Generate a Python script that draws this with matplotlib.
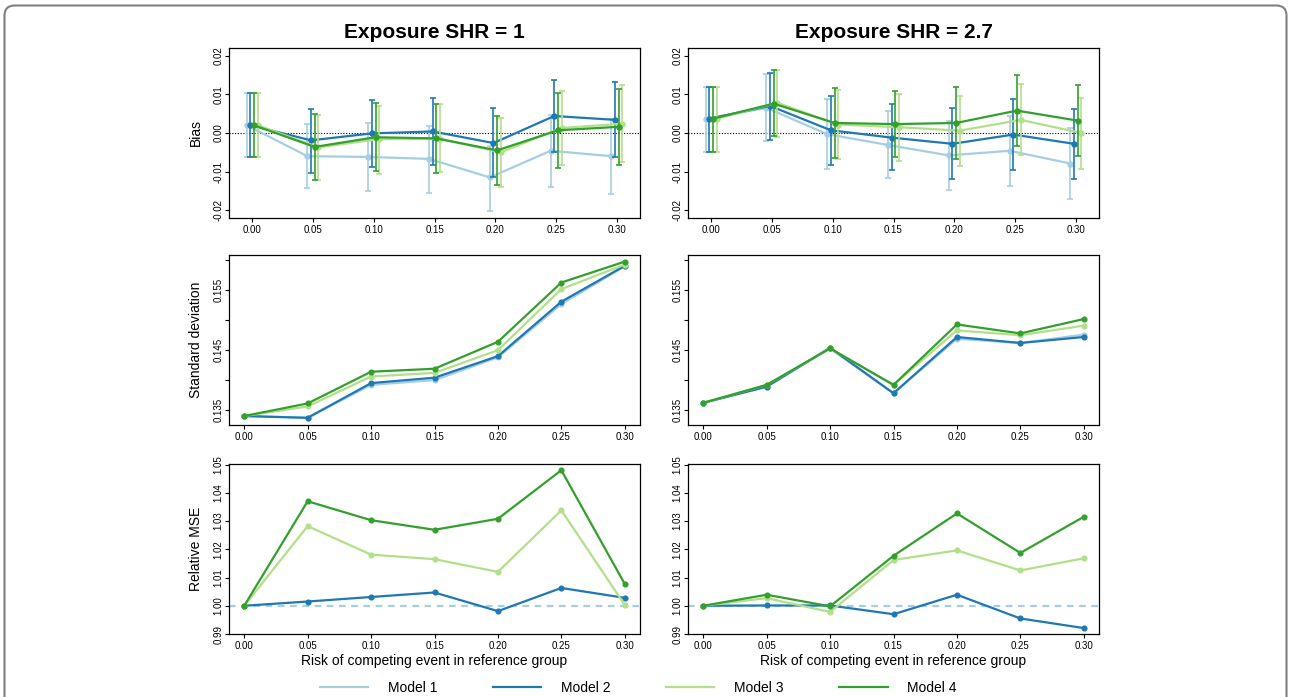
import numpy as np
import matplotlib.pyplot as plt
from matplotlib.patches import FancyBboxPatch

plt.rcParams['font.family'] = ['Liberation Sans', 'DejaVu Sans']

# %%
risk = [0.00, 0.05, 0.10, 0.15, 0.20, 0.25, 0.30]
models = ['Model 1', 'Model 2', 'Model 3', 'Model 4']
colors = ['#a6cee3', '#1f78b4', '#b2df8a', '#33a02c']
titles = ['Exposure SHR = 1', 'Exposure SHR = 2.7']

# bias, rows = model 1..4
bias_shr1 = [[0.0020, -0.0060, -0.0062, -0.0067, -0.0115, -0.0046, -0.0060],
             [0.0020, -0.0019, -0.0001, 0.0004, -0.0026, 0.0044, 0.0034],
             [0.0020, -0.0037, -0.0016, -0.0015, -0.0050, 0.0013, 0.0024],
             [0.0020, -0.0036, -0.0011, -0.0014, -0.0045, 0.0007, 0.0016]]
lo_shr1 = [[-0.0062, -0.0143, -0.0149, -0.0155, -0.0203, -0.0140, -0.0158],
           [-0.0062, -0.0103, -0.0087, -0.0083, -0.0114, -0.0050, -0.0063],
           [-0.0062, -0.0121, -0.0106, -0.0101, -0.0140, -0.0084, -0.0074],
           [-0.0062, -0.0122, -0.0099, -0.0103, -0.0135, -0.0090, -0.0083]]
hi_shr1 = [[0.0103, 0.0023, 0.0025, 0.0017, -0.0033, 0.0047, 0.0036],
           [0.0103, 0.0063, 0.0086, 0.0091, 0.0064, 0.0138, 0.0133],
           [0.0103, 0.0047, 0.0069, 0.0074, 0.0039, 0.0110, 0.0124],
           [0.0103, 0.0048, 0.0078, 0.0074, 0.0045, 0.0103, 0.0114]]

bias_shr27 = [[0.0037, 0.0065, -0.0003, -0.0031, -0.0058, -0.0046, -0.0079],
              [0.0037, 0.0070, 0.0007, -0.0012, -0.0028, -0.0004, -0.0028],
              [0.0037, 0.0078, 0.0022, 0.0015, 0.0006, 0.0034, 0.0000],
              [0.0037, 0.0076, 0.0026, 0.0023, 0.0026, 0.0058, 0.0032]]
lo_shr27 = [[-0.0048, -0.0020, -0.0092, -0.0116, -0.0148, -0.0136, -0.0171],
            [-0.0048, -0.0017, -0.0084, -0.0097, -0.0118, -0.0095, -0.0119],
            [-0.0048, -0.0011, -0.0066, -0.0072, -0.0086, -0.0056, -0.0093],
            [-0.0048, -0.0009, -0.0065, -0.0063, -0.0066, -0.0033, -0.0060]]
hi_shr27 = [[0.0120, 0.0153, 0.0088, 0.0056, 0.0032, 0.0045, 0.0012],
            [0.0120, 0.0155, 0.0097, 0.0074, 0.0064, 0.0087, 0.0063],
            [0.0120, 0.0162, 0.0112, 0.0101, 0.0097, 0.0126, 0.0091],
            [0.0120, 0.0163, 0.0116, 0.0110, 0.0118, 0.0151, 0.0123]]

# standard deviation
sd_shr1 = [[0.1340, 0.1337, 0.1392, 0.1400, 0.1438, 0.1527, 0.1590],
           [0.1340, 0.1337, 0.1395, 0.1404, 0.1440, 0.1531, 0.1591],
           [0.1340, 0.1356, 0.1406, 0.1412, 0.1450, 0.1552, 0.1593],
           [0.1340, 0.1361, 0.1414, 0.1419, 0.1464, 0.1563, 0.1598]]
sd_shr27 = [[0.1362, 0.1389, 0.1453, 0.1378, 0.1469, 0.1462, 0.1476],
            [0.1362, 0.1389, 0.1454, 0.1378, 0.1472, 0.1462, 0.1472],
            [0.1362, 0.1392, 0.1453, 0.1392, 0.1483, 0.1475, 0.1491],
            [0.1362, 0.1392, 0.1453, 0.1392, 0.1493, 0.1478, 0.1502]]

# relative MSE (model 1 is the reference = 1)
mse_ref = 1.0
mse_shr1 = [[1.0, 1.0015, 1.0031, 1.0047, 0.9981, 1.0063, 1.0028],
            [1.0, 1.0282, 1.0181, 1.0165, 1.0120, 1.0338, 1.0003],
            [1.0, 1.0370, 1.0303, 1.0269, 1.0308, 1.0480, 1.0077]]
mse_shr27 = [[1.0, 1.0001, 1.0001, 0.9970, 1.0039, 0.9955, 0.9921],
             [1.0, 1.0027, 0.9978, 1.0162, 1.0196, 1.0125, 1.0168],
             [1.0, 1.0039, 0.9998, 1.0177, 1.0327, 1.0187, 1.0315]]

dodge = [-0.0045, -0.0015, 0.0045, 0.0015]

# %%
W, H = 1290, 697
fig = plt.figure(figsize=(W / 100, H / 100), dpi=100)

def pos(x0, y0, x1, y1):
    return [x0 / W, 1 - y1 / H, (x1 - x0) / W, (y1 - y0) / H]

lefts = [229, 688]
rows = [(48, 218), (255, 425), (464, 634)]
axes = [[fig.add_axes(pos(l, r[0], l + 411, r[1])) for l in lefts] for r in rows]

def style(ax):
    for s in ax.spines.values():
        s.set_linewidth(0.9)
    ax.tick_params(direction='out', length=3, width=0.8, labelsize=7, pad=2)
    ax.tick_params(axis='y', labelrotation=90, pad=1)
    ax.set_xticks(risk)
    ax.set_xticklabels(['%.2f' % r for r in risk])
    for lab in ax.get_yticklabels():
        lab.set_va('center')

x = np.array(risk)
bias_all = [(bias_shr1, lo_shr1, hi_shr1), (bias_shr27, lo_shr27, hi_shr27)]
for j in range(2):
    ax = axes[0][j]
    b, lo, hi = bias_all[j]
    ax.axhline(0, color='black', lw=0.8, ls=(0, (1, 1.5)), zorder=1)
    for i in range(4):
        xi = x + dodge[i]
        bi = np.array(b[i])
        err = [bi - np.array(lo[i]), np.array(hi[i]) - bi]
        ax.errorbar(xi, bi, yerr=err, color=colors[i], lw=1.6, elinewidth=1.2,
                    capsize=2.3, capthick=1.2, marker='o', ms=3.6, zorder=2 + i)
    ax.set_xlim(-0.019, 0.319)
    ax.set_ylim(-0.022, 0.022)
    ax.set_yticks([-0.02, -0.01, 0.0, 0.01, 0.02])
    ax.set_yticklabels(['-0.02', '-0.01', '0.00', '0.01', '0.02'])
    style(ax)
    ax.set_title(titles[j], fontsize=15, fontweight='bold', pad=7)

sd_all = [sd_shr1, sd_shr27]
for j in range(2):
    ax = axes[1][j]
    for i in range(4):
        ax.plot(x, sd_all[j][i], color=colors[i], lw=1.6, marker='o', ms=3.4, zorder=2 + i)
    ax.set_xlim(-0.012, 0.312)
    ax.set_ylim(0.1325, 0.1609)
    ax.set_yticks([0.135, 0.140, 0.145, 0.150, 0.155, 0.160])
    ax.set_yticklabels(['0.135', '', '0.145', '', '0.155', ''])
    style(ax)

mse_all = [mse_shr1, mse_shr27]
for j in range(2):
    ax = axes[2][j]
    ax.axhline(mse_ref, color=colors[0], lw=1.6, ls=(0, (3, 2.5)), zorder=1)
    for i in range(3):
        ax.plot(x, mse_all[j][i], color=colors[i + 1], lw=1.6, marker='o', ms=3.4, zorder=2 + i)
    ax.set_xlim(-0.012, 0.312)
    ax.set_ylim(0.99, 1.0502)
    ax.set_yticks([0.99, 1.00, 1.01, 1.02, 1.03, 1.04, 1.05])
    ax.set_yticklabels(['0.99', '1.00', '1.01', '1.02', '1.03', '1.04', '1.05'])
    style(ax)
    ax.set_xlabel('Risk of competing event in reference group', fontsize=10)
    ax.xaxis.set_label_coords(0.5, -0.12)

for r, lab in enumerate(['Bias', 'Standard deviation', 'Relative MSE']):
    axes[r][0].set_ylabel(lab, fontsize=10)
    axes[r][0].yaxis.set_label_coords(-0.063, 0.5)

handles = [plt.Line2D([], [], color=c, lw=1.6) for c in colors]
fig.legend(handles, models, loc='center', bbox_to_anchor=(638 / W, 1 - 688 / H),
           ncol=4, frameon=False, fontsize=10, handlelength=3.5,
           handletextpad=1.4, columnspacing=4.0)

frame = FancyBboxPatch((0.045, -0.3), 12.82, 7.215, boxstyle='round,pad=0,rounding_size=0.1',
                       transform=fig.dpi_scale_trans, fc='none', ec='#808080', lw=1.5)
fig.patches.append(frame)

fig.savefig('out.png', dpi=100)
